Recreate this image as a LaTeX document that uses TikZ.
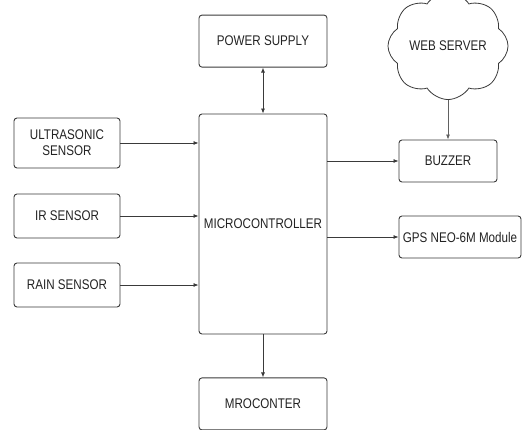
\documentclass[tikz,border=0pt]{standalone}
\usepackage{fontspec}
\setmainfont[FakeStretch=0.83]{Liberation Sans}
\usetikzlibrary{positioning,arrows.meta,shapes.symbols}
\definecolor{edgegray}{HTML}{3A3A3A}
\definecolor{textgray}{HTML}{222222}

\begin{document}
\begin{tikzpicture}[
    x=1pt, y=1pt,
    >={Latex[length=5pt,width=4pt]},
    every node/.style={font=\fontsize{14}{16}\selectfont, text=textgray},
    block/.style={
        draw=edgegray, rounded corners=3pt, line width=0.9pt,
        minimum width=#1, align=center, inner sep=0pt
    },
    block/.default=106pt,
    cloudbox/.style={
        draw=edgegray, cloud, cloud puffs=8, cloud puff arc=115,
        aspect=1.2, line width=0.8pt, minimum width=95pt, minimum height=78pt,
        inner sep=0pt
    },
    arr/.style={->, line width=0.8pt, draw=edgegray},
    darr/.style={<->, line width=0.8pt, draw=edgegray},
]
\useasboundingbox (0,0) rectangle (529,-430);

% === Central block ===
\node[block=128pt, minimum height=220pt] (micro) at (263,-224) {MICROCONTROLLER};
\node[block=128pt, minimum height=52pt, above=46pt of micro] (power) {POWER SUPPLY};
\node[block=128pt, minimum height=52pt, below=43pt of micro] (mroconter) {MROCONTER};

% === Sensors (left) ===
\node[block, minimum height=50pt] (ultra) at (67,-143) {ULTRASONIC\\SENSOR};
\node[block, minimum height=44pt] (ir) at (67,-216) {IR SENSOR};
\node[block, minimum height=44pt] (rain) at (67,-285) {RAIN SENSOR};

% === Outputs (right) ===
\node[block=98pt, minimum height=42pt] (buzzer) at (448,-161) {BUZZER};
\node[block=122pt, minimum height=42pt] (gps) at (460,-237) {GPS NEO-6M Module};
\node[cloudbox] (server) at (448,-46) {WEB SERVER};

% Connections
\draw[darr] (power) -- (micro);
\draw[arr] (micro) -- (mroconter);
\draw[arr] (ultra.east) -- (ultra.east -| micro.west);
\draw[arr] (ir.east) -- (ir.east -| micro.west);
\draw[arr] (rain.east) -- (rain.east -| micro.west);
\draw[arr] (micro.east |- buzzer.west) -- (buzzer.west);
\draw[arr] (micro.east |- gps.west) -- (gps.west);
\draw[arr, draw=edgegray!80] (server.south) -- (buzzer.north);

\end{tikzpicture}
\end{document}
